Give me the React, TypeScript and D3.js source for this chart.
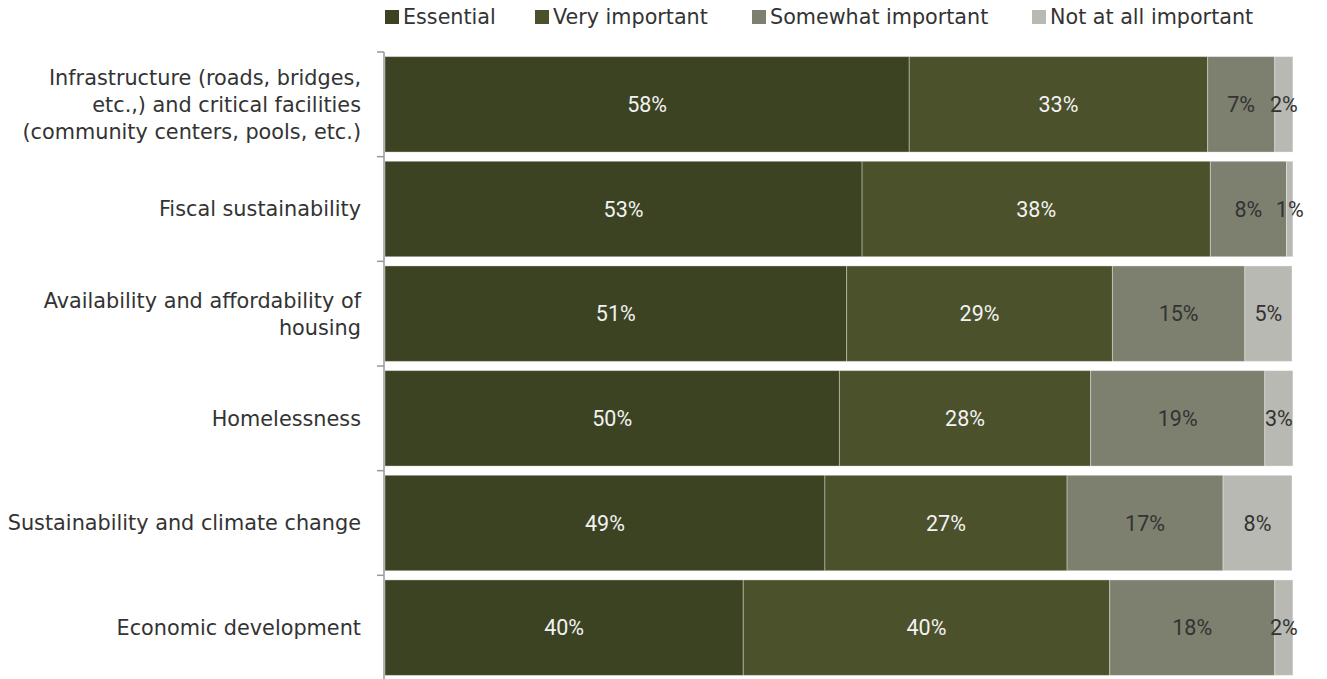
import React from "react";
import * as d3 from "d3";

const categories: string[][] = [
  ["Infrastructure (roads, bridges,", "etc.,) and critical facilities", "(community centers, pools, etc.)"],
  ["Fiscal sustainability"],
  ["Availability and affordability of", "housing"],
  ["Homelessness"],
  ["Sustainability and climate change"],
  ["Economic development"],
];
const seriesNames = ["Essential", "Very important", "Somewhat important", "Not at all important"];
const essential = [57.8, 52.6, 50.9, 50.1, 48.5, 39.5];
const veryImportant = [32.9, 38.4, 29.3, 27.7, 26.7, 40.4];
const somewhatImportant = [7.4, 8.4, 14.6, 19.2, 17.2, 18.2];
const notAtAll = [2.0, 0.7, 5.2, 3.1, 7.6, 2.0];
const labelText = [
  ["58%", "33%", "7%", "2%"],
  ["53%", "38%", "8%", "1%"],
  ["51%", "29%", "15%", "5%"],
  ["50%", "28%", "19%", "3%"],
  ["49%", "27%", "17%", "8%"],
  ["40%", "40%", "18%", "2%"],
];
const colors = ["#3c4322", "#4b512b", "#7d806e", "#b8b9b2"];
const labelColors = ["#f2f2f2", "#f2f2f2", "#333333", "#333333"];

export default function App() {
  const W = 1327, H = 679;
  const x0 = 385, x1 = 1292, yTop = 52, yBot = 680;
  const x = d3.scaleLinear().domain([0, 100]).range([x0, x1]);
  const y = d3.scaleBand<number>().domain(d3.range(categories.length)).range([yTop, yBot]).paddingInner(0.088).paddingOuter(0.044);
  const rows = categories.map((_, i) => [essential[i], veryImportant[i], somewhatImportant[i], notAtAll[i]]);
  const step = y.step();
  const font = "'DejaVu Sans', sans-serif";
  const legendX = [385, 535, 752, 1032];
  return (
    <svg width={W} height={H} style={{ position: "absolute", left: 0, top: 0 }} fontFamily={font}>
      <rect width={W} height={H} fill="#fff" />
      {seriesNames.map((n, k) => (
        <g key={n} transform={`translate(${legendX[k]},0)`}>
          <rect x={0} y={10} width={14} height={14} fill={colors[k]} />
          <text x={18} y={17} dy="0.36em" fontSize={20.7} fill="#333">{n}</text>
        </g>
      ))}
      {rows.map((vals, i) => {
        let acc = 0;
        return (
          <g key={i}>
            {vals.map((v, k) => {
              const start = acc;
              acc += v;
              const xs = x(start), xe = x(acc);
              const by = y(i)!;
              return (
                <g key={k}>
                  <rect x={xs} y={by} width={xe - xs} height={y.bandwidth()} fill={colors[k]} stroke="#ffffff" strokeOpacity={0.35} strokeWidth={1} />
                  <text x={(xs + xe) / 2} y={by + y.bandwidth() / 2} dy="0.36em" textAnchor="middle" fontSize={21.5} fill={labelColors[k]} fontFamily="Roboto, sans-serif">{labelText[i][k]}</text>
                </g>
              );
            })}
          </g>
        );
      })}
      <line x1={x0 - 1} x2={x0 - 1} y1={yTop} y2={yBot} stroke="#999" strokeWidth={1.5} />
      {d3.range(categories.length + 1).map((j) => (
        <line key={j} x1={x0 - 8} x2={x0 - 1} y1={yTop + j * step} y2={yTop + j * step} stroke="#999" strokeWidth={1.5} />
      ))}
      {categories.map((lines, i) => {
        const cy = y(i)! + y.bandwidth() / 2;
        const lh = 27;
        return (
          <text key={i} x={361} textAnchor="end" fontSize={20.8} fill="#333">
            {lines.map((l, li) => (
              <tspan key={li} x={361} y={cy + (li - (lines.length - 1) / 2) * lh} dy="0.36em">{l}</tspan>
            ))}
          </text>
        );
      })}
    </svg>
  );
}
